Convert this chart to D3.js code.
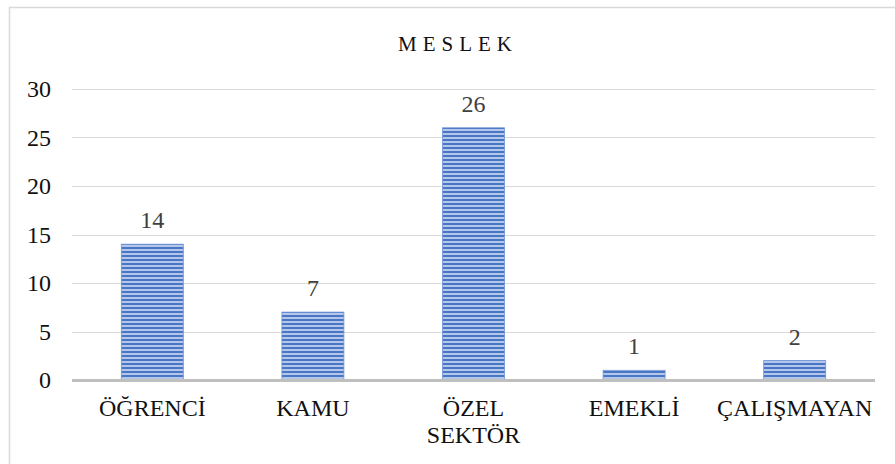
<!DOCTYPE html>
<html>
<head>
<meta charset="utf-8">
<script src="https://cdn.jsdelivr.net/npm/d3@7"></script>
<style>
  body { margin: 0; background: #fff; }
  svg text { font-family: "Liberation Serif", "Times New Roman", serif; }
</style>
</head>
<body>
<div id="wrapper"></div>
<script>
const categories = ["ÖĞRENCİ", "KAMU", "ÖZEL SEKTÖR", "EMEKLİ", "ÇALIŞMAYAN"];
const values = [14, 7, 26, 1, 2];
const yTicks = [0, 5, 10, 15, 20, 25, 30];
const title = "MESLEK";

function buildPlot() {
    const dimension = {
        width: 895,
        height: 464,
        margin: { top: 89, left: 72, bottom: 84, right: 20 }
    };
    dimension.boundedWidth = dimension.width - dimension.margin.left - dimension.margin.right;
    dimension.boundedHeight = dimension.height - dimension.margin.top - dimension.margin.bottom;

    const svg = d3.select("#wrapper").append("svg")
        .attr("width", dimension.width)
        .attr("height", dimension.height);

    // striped fill
    const defs = svg.append("defs");
    const pat = defs.append("pattern")
        .attr("id", "stripes")
        .attr("patternUnits", "userSpaceOnUse")
        .attr("width", 8)
        .attr("height", 4);
    pat.append("rect").attr("width", 8).attr("height", 4).attr("fill", "#b4c7ea");
    pat.append("rect").attr("y", 2).attr("width", 8).attr("height", 2).attr("fill", "#4a76c6");

    // chart frame
    svg.append("rect")
        .attr("x", 9.5).attr("y", 7.5)
        .attr("width", 900).attr("height", 470)
        .attr("fill", "none")
        .attr("stroke", "#d9d9d9")
        .attr("stroke-width", 1.5);

    svg.append("text")
        .attr("x", 458)
        .attr("y", 51)
        .attr("text-anchor", "middle")
        .attr("font-size", 21)
        .attr("letter-spacing", "6px")
        .attr("fill", "#111")
        .text(title);

    const bounded = svg.append("g")
        .attr("transform", `translate(${dimension.margin.left},${dimension.margin.top})`);

    const xScaler = d3.scaleBand()
        .domain(categories)
        .range([0, dimension.boundedWidth])
        .paddingInner(0.614)
        .paddingOuter(0.307);

    const yScaler = d3.scaleLinear()
        .domain([0, 30])
        .range([dimension.boundedHeight, 0]);

    // gridlines
    bounded.append("g")
        .selectAll("line")
        .data(yTicks.filter(d => d > 0))
        .join("line")
        .attr("x1", 0)
        .attr("x2", dimension.boundedWidth)
        .attr("y1", d => Math.round(yScaler(d)) + 0.5)
        .attr("y2", d => Math.round(yScaler(d)) + 0.5)
        .attr("stroke", "#d9d9d9")
        .attr("stroke-width", 1);

    // y axis labels
    const yAxis = d3.axisLeft(yScaler)
        .tickValues(yTicks)
        .tickSize(0)
        .tickPadding(21);
    const yG = bounded.append("g").call(yAxis);
    yG.select(".domain").remove();
    yG.attr("font-size", 24);
    yG.selectAll("text")
        .attr("fill", "#111");

    // bars
    bounded.append("g")
        .selectAll("rect")
        .data(values)
        .join("rect")
        .attr("x", (d, i) => xScaler(categories[i]))
        .attr("y", d => yScaler(d))
        .attr("width", xScaler.bandwidth())
        .attr("height", d => dimension.boundedHeight - yScaler(d))
        .attr("fill", "url(#stripes)")
        .attr("stroke", "#6f93d4")
        .attr("stroke-width", 0.8);

    // data labels
    bounded.append("g")
        .selectAll("text")
        .data(values)
        .join("text")
        .attr("x", (d, i) => xScaler(categories[i]) + xScaler.bandwidth() / 2)
        .attr("y", d => yScaler(d) - 16)
        .attr("text-anchor", "middle")
        .attr("font-size", 24)
        .attr("fill", "#404040")
        .text(d => d);

    // baseline
    bounded.append("line")
        .attr("x1", 0)
        .attr("x2", dimension.boundedWidth)
        .attr("y1", dimension.boundedHeight + 0.5)
        .attr("y2", dimension.boundedHeight + 0.5)
        .attr("stroke", "#bfbfbf")
        .attr("stroke-width", 3);

    // category labels
    const xAxis = d3.axisBottom(xScaler).tickSize(0).tickPadding(0);
    const xG = bounded.append("g")
        .attr("transform", `translate(0,${dimension.boundedHeight})`)
        .call(xAxis);
    xG.select(".domain").remove();
    xG.attr("font-size", 24);
    xG.selectAll("text").each(function (d) {
        const t = d3.select(this);
        t.text(null)
            .attr("y", 0)
            .attr("dy", null)
            .attr("fill", "#111");
        const words = d === "ÖZEL SEKTÖR" ? ["ÖZEL", "SEKTÖR"] : [d];
        words.forEach((w, k) => {
            t.append("tspan")
                .attr("x", 0)
                .attr("y", 36 + k * 27)
                .text(w);
        });
    });
}

buildPlot();
</script>
</body>
</html>
